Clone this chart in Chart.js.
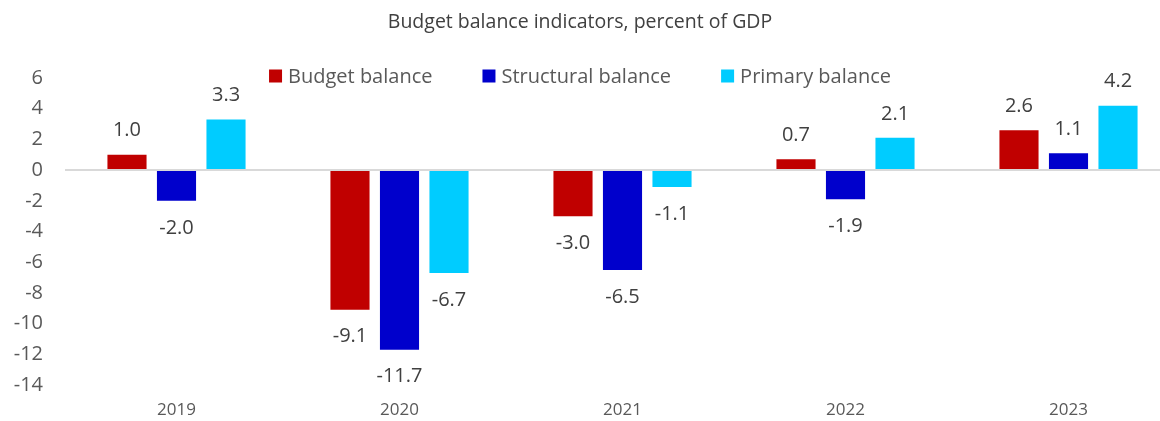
<!DOCTYPE html>
<html>
<head>
<meta charset="utf-8">
<script src="https://cdn.jsdelivr.net/npm/chart.js@4"></script>
<style>
  html, body { margin: 0; padding: 0; background: #fff; overflow: hidden; }
  #wrap { width: 1160px; height: 421px; overflow: hidden; }
</style>
</head>
<body>
<div id="wrap"><canvas id="budgetChart" width="1180" height="421"></canvas></div>
<script>
// Budget balance data, percent of GDP
const years = ['2019', '2020', '2021', '2022', '2023'];
const budgetBalance = [1.0, -9.1, -3.0, 0.7, 2.6];
const structuralBalance = [-2.0, -11.7, -6.5, -1.9, 1.1];
const primaryBalance = [3.3, -6.7, -1.1, 2.1, 4.2];
const yTicks = [6, 4, 2, 0, -2, -4, -6, -8, -10, -12, -14];

const FONT = "'Open Sans', 'DejaVu Sans', sans-serif";
const TITLE = 'Budget balance indicators, percent of GDP';
const CENTER_X = 580;

// value labels above/below each bar, plus title and legend
const annotations = {
  id: 'annotations',
  afterDatasetsDraw(chart) {
    const ctx = chart.ctx;
    ctx.save();
    ctx.font = '20px ' + FONT;
    ctx.fillStyle = '#404040';
    ctx.textAlign = 'center';
    ctx.textBaseline = 'middle';
    chart.data.datasets.forEach((ds, i) => {
      chart.getDatasetMeta(i).data.forEach((bar, j) => {
        const v = ds.data[j];
        const y = v >= 0 ? bar.y - 24 : bar.y + 27;
        ctx.fillText(v.toFixed(1), bar.x, y);
      });
    });
    ctx.restore();
  },
  afterDraw(chart) {
    const ctx = chart.ctx;
    ctx.save();
    ctx.textBaseline = 'middle';
    ctx.textAlign = 'center';
    ctx.font = '19.5px ' + FONT;
    ctx.fillStyle = '#404040';
    ctx.fillText(TITLE, CENTER_X, 22);

    // legend
    ctx.font = '20px ' + FONT;
    const box = 13, boxGap = 6, itemGap = 50;
    const items = chart.data.datasets.map(ds => ({
      label: ds.label, color: ds.backgroundColor,
      w: box + boxGap + ctx.measureText(ds.label).width
    }));
    const total = items.reduce((s, it) => s + it.w, 0) + itemGap * (items.length - 1);
    let x = CENTER_X - total / 2;
    const y = 76;
    ctx.textAlign = 'left';
    items.forEach(it => {
      ctx.fillStyle = it.color;
      ctx.fillRect(x, y - box / 2, box, box);
      ctx.fillStyle = '#595959';
      ctx.fillText(it.label, x + box + boxGap, y + 1);
      x += it.w + itemGap;
    });
    ctx.restore();
  }
};

new Chart(document.getElementById('budgetChart'), {
  type: 'bar',
  data: {
    labels: years,
    datasets: [
      { label: 'Budget balance', data: budgetBalance, backgroundColor: '#C00000' },
      { label: 'Structural balance', data: structuralBalance, backgroundColor: '#0000CC' },
      { label: 'Primary balance', data: primaryBalance, backgroundColor: '#00CCFF' }
    ]
  },
  options: {
    responsive: false,
    animation: false,
    layout: { padding: { top: 78, left: 0, right: 0, bottom: 0 } },
    datasets: {
      bar: { barPercentage: 0.79, categoryPercentage: 0.666 }
    },
    plugins: {
      legend: { display: false },
      title: { display: false },
      tooltip: { enabled: false }
    },
    scales: {
      x: {
        grid: { display: false, drawTicks: false },
        border: { display: false },
        ticks: { color: '#595959', font: { family: FONT, size: 17 }, padding: 15 },
        afterFit(scale) { scale.height = 36; }
      },
      y: {
        min: Math.min(...yTicks),
        max: Math.max(...yTicks),
        afterBuildTicks(scale) { scale.ticks = yTicks.map(v => ({ value: v })); },
        border: { display: false },
        grid: {
          drawTicks: false,
          lineWidth: 2,
          color: c => (c.tick && c.tick.value === 0 ? '#D9D9D9' : 'rgba(0,0,0,0)')
        },
        ticks: { color: '#595959', font: { family: FONT, size: 20 }, padding: 22 },
        afterFit(scale) { scale.width = 65; }
      }
    }
  },
  plugins: [annotations]
});
</script>
</body>
</html>
